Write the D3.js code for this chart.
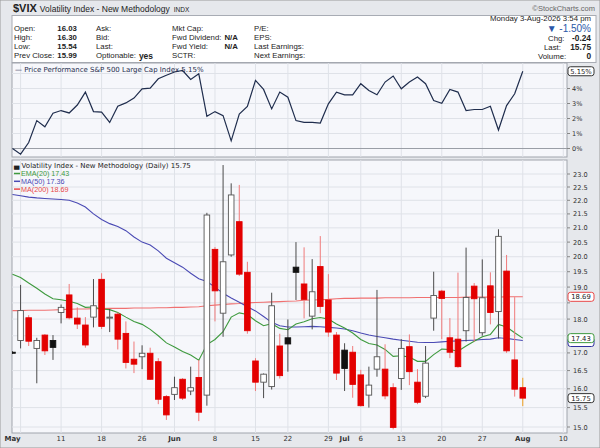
<html>
<head>
<script src="https://d3js.org/d3.v7.min.js"></script>
<style>
  body { margin: 0; background: #ffffff; }
  svg { font-family: "Liberation Sans", Arial, sans-serif; }
  .small { font-family: "DejaVu Sans", Verdana, sans-serif; }
</style>
</head>
<body>
<svg id="chart" width="600" height="448"></svg>
<script>

  // ---- data (trading days, May 1 .. Aug 3 2026) ----
  var openV  = [17.02,17.36,18.04,17.13,17.52,17.36,18.20,18.75,18.03,17.82,18.06,19.25,18.03,18.15,17.57,16.82,
                16.89,16.99,16.75,15.79,15.85,16.26,15.94,16.31,15.83,20.25,18.18,20.06,21.22,19.48,16.77,16.18,
                16.06,17.20,17.44,19.65,19.10,18.09,19.67,18.59,17.52,17.08,17.02,16.38,15.83,16.54,16.54,16.03,
                16.28,17.18,16.18,15.80,18.03,18.87,17.44,17.40,17.65,19.03,17.59,19.04,18.23,19.52,16.80,16.03];
  var highV  = [17.05,19.07,18.12,17.44,17.55,17.52,18.45,19.10,18.36,18.06,19.26,19.45,18.31,18.20,17.93,17.33,
                17.22,17.15,16.85,15.83,16.33,16.29,16.61,16.80,21.54,20.33,23.35,22.64,22.58,19.83,16.85,16.42,
                18.82,17.56,17.99,20.50,20.32,19.92,20.71,19.42,17.61,17.28,17.20,16.52,16.61,18.91,17.25,16.15,
                17.40,17.54,16.54,17.20,19.50,18.91,18.03,19.47,20.31,19.13,19.91,19.48,20.95,20.06,18.68,16.30];
  var lowV   = [16.97,17.13,17.20,16.15,16.94,16.80,17.87,17.99,17.70,17.15,17.75,17.70,17.61,17.10,16.56,16.43,
                16.54,16.24,15.59,15.18,15.70,15.70,15.83,15.15,15.55,17.93,17.47,20.00,19.36,17.56,15.94,15.75,
                15.98,16.28,16.47,18.59,18.02,17.69,18.18,17.47,16.24,15.94,15.76,15.53,15.50,16.33,15.72,14.94,
                15.97,16.10,15.59,15.75,17.65,17.40,16.85,16.58,17.33,17.33,17.50,17.84,17.42,17.00,15.79,15.54];
  var closeV = [16.99,18.26,17.34,17.36,17.06,17.16,18.36,18.04,17.85,17.23,18.41,17.78,18.06,17.40,16.73,16.68,
                16.99,16.26,15.72,15.31,16.03,15.75,16.03,15.38,21.46,18.88,19.83,22.20,19.42,17.65,16.18,16.40,
                18.41,16.36,17.26,19.48,18.61,18.85,18.39,17.61,16.43,16.56,16.12,15.55,16.10,16.89,15.81,14.99,
                17.13,16.47,15.64,16.71,18.73,18.64,17.02,16.61,18.67,18.63,18.66,18.20,20.70,17.06,15.99,15.75];
  var prevCloseStart = 16.90;

  var ema20 = [19.42,19.31,19.13,18.96,18.78,18.63,18.60,18.55,18.48,18.36,18.37,18.31,18.29,18.20,18.06,17.93,
               17.84,17.69,17.50,17.29,17.17,17.04,16.94,16.79,17.24,17.39,17.62,18.06,18.19,18.14,17.95,17.80,
               17.86,17.72,17.68,17.85,17.92,18.01,18.05,18.00,17.85,17.73,17.58,17.39,17.27,17.23,17.10,16.90,
               16.92,16.88,16.76,16.76,16.95,17.11,17.10,17.05,17.20,17.34,17.47,17.54,17.84,17.76,17.59,17.43];
  var ma50  = [22.22,22.17,22.12,22.09,22.07,22.05,22.03,22.00,21.90,21.75,21.50,21.30,21.15,21.05,20.90,20.68,
               20.50,20.40,20.20,19.95,19.80,19.65,19.45,19.27,19.18,19.00,18.80,18.65,18.52,18.38,18.25,18.08,
               17.90,17.80,17.76,17.76,17.77,17.78,17.77,17.75,17.73,17.70,17.65,17.58,17.52,17.48,17.44,17.40,
               17.37,17.34,17.31,17.30,17.30,17.32,17.34,17.35,17.36,17.37,17.39,17.40,17.44,17.42,17.39,17.36];
  var ma200 = [18.26,18.26,18.27,18.27,18.27,18.28,18.29,18.30,18.31,18.31,18.32,18.32,18.33,18.33,18.33,18.34,
               18.34,18.34,18.35,18.35,18.36,18.36,18.37,18.38,18.41,18.43,18.45,18.47,18.48,18.50,18.51,18.52,
               18.53,18.54,18.55,18.56,18.58,18.59,18.60,18.61,18.63,18.64,18.64,18.65,18.65,18.65,18.66,18.66,
               18.66,18.66,18.67,18.67,18.67,18.67,18.67,18.67,18.68,18.68,18.68,18.68,18.68,18.69,18.69,18.69];

  // S&P 500 price performance, percent
  var spxPerf = [0.00,-0.38,0.40,1.86,1.45,2.35,2.53,2.37,2.90,3.76,2.46,2.42,1.74,2.82,3.04,3.36,
                 3.98,4.03,4.65,4.88,5.10,5.20,4.60,4.98,2.15,2.46,2.19,0.51,2.30,2.80,4.54,3.94,
                 2.64,3.76,3.42,1.86,1.74,1.74,1.70,2.98,3.76,3.58,3.58,4.32,3.87,3.58,4.43,4.83,
                 3.98,4.43,4.77,4.32,3.20,3.02,3.94,3.76,2.53,2.60,2.60,2.82,1.23,2.86,3.65,5.15];

  // x axis (trading day index; 64..68 are the days after Aug 3)
  var tickIdx  = [0, 6, 11, 16, 20, 25, 30, 34, 39, 41, 43, 48, 53, 58, 63, 68];
  var tickText = ["May","11","18","26","Jun","8","15","22","29","Jul","6","13","20","27","Aug","10"];
  var tickBold = [1,0,0,0,1,0,0,0,0,1,0,0,0,0,1,0];
  var gridIdx  = [1, 6, 11, 16, 20, 25, 30, 34, 39, 43, 48, 53, 58, 63, 68];

  var priceTicks = [15,15.5,16,16.5,17,17.5,18,18.5,19,19.5,20,20.5,21,21.5,22,22.5,23];
  var pctTicks = [0,1,2,3,4,5];
  var pctLabels = [0,1,2,3,4];

  // last values shown in the tags on the right
  var tagVals = [18.69, 17.43, 15.75];

  // ---- layout ----
  var left = 12, right = 567;
  var top1 = 63, bot1 = 157;
  var top2 = 160, bot2 = 433;

  var x = d3.scaleLinear().domain([-0.06, 68.46]).range([left, right]);
  var y = d3.scaleLog().domain([15, 23]).range([427, 174]);
  var yp = d3.scaleLinear().domain([0, 5]).range([148.5, 73.5]);

  var svg = d3.select("#chart");

  // background and frames
  svg.append("rect").attr("x",0).attr("y",0).attr("width",600).attr("height",448)
     .attr("fill","#e6e8ec").attr("stroke","#9a9a9a");
  svg.append("rect").attr("x",left).attr("y",15.5).attr("width",584).attr("height",47)
     .attr("fill","#ffffff").attr("stroke","#a8acb4");
  svg.append("rect").attr("x",left).attr("y",top1).attr("width",right-left).attr("height",bot1-top1)
     .attr("fill","#f6f7fb").attr("stroke","#a0a4ac");
  svg.append("rect").attr("x",left).attr("y",top2).attr("width",right-left).attr("height",bot2-top2)
     .attr("fill","#f6f7fb").attr("stroke","#a0a4ac");

  // ---- title row ----
  var title = svg.append("text").attr("x",13).attr("y",12).attr("fill","#222");
  title.append("tspan").attr("font-size","11px").attr("font-weight","bold").text("$VIX");
  title.append("tspan").attr("font-size","8.5px").attr("dx",3).text("Volatility Index - New Methodology");
  title.append("tspan").attr("font-size","6.5px").attr("dx",4).text("INDX");
  svg.append("text").attr("x",595).attr("y",11).attr("text-anchor","end")
     .attr("font-size","7.5px").attr("fill","#666").text("\u00a9StockCharts.com");

  // ---- header info ----
  var rowY = [31, 40, 49, 58];
  var col1 = ["Open:","High:","Low:","Prev Close:"];
  var col1v = ["16.03","16.30","15.54","15.99"];
  var col2 = ["Ask:","Bid:","Last:","Optionable:"];
  var col3 = ["Mkt Cap:","Fwd Dividend:","Fwd Yield:","SCTR:"];
  var col3v = ["","N/A","N/A",""];
  var col4 = ["P/E:","EPS:","Last Earnings:","Next Earnings:"];
  var info = svg.append("g").attr("font-size","7.8px").attr("fill","#222");

  function textEnd(sel) { return +sel.attr("x") + sel.node().getComputedTextLength(); }

  var lab1 = [], lab2 = [], lab3 = [];
  rowY.forEach(function(ry, i) {
    lab1.push(info.append("text").attr("x",14).attr("y",ry).text(col1[i]));
    lab2.push(info.append("text").attr("x",96).attr("y",ry).text(col2[i]));
    lab3.push(info.append("text").attr("x",172).attr("y",ry).text(col3[i]));
    info.append("text").attr("x",254).attr("y",ry).text(col4[i]);
  });
  var v1x = Math.max(55, textEnd(lab1[3]) + 3);
  rowY.forEach(function(ry, i) {
    info.append("text").attr("x", i == 3 ? textEnd(lab1[3]) + 3 : v1x).attr("y",ry)
        .attr("font-weight","bold").text(col1v[i]);
  });
  var v3x = Math.max(224, textEnd(lab3[1]) + 3);
  rowY.forEach(function(ry, i) {
    info.append("text").attr("x",v3x).attr("y",ry).attr("font-weight","bold").text(col3v[i]);
  });
  info.append("text").attr("x",textEnd(lab2[3]) + 3).attr("y",rowY[3]+0.5)
      .attr("font-weight","bold").attr("font-size","8.5px").text("yes");

  info.append("text").attr("x",591).attr("y",20.5).attr("text-anchor","end").text("Monday  3-Aug-2026  3:54 pm");
  info.append("text").attr("x",591).attr("y",rowY[0]+0.5).attr("text-anchor","end")
      .attr("font-size","10px").attr("fill","#2a57a8").text("\u25bc -1.50%");
  var rLab = ["Chg:","Last:","Volume:"], rVal = ["-0.24","15.75","0"], rLabX = [548, 544, 538];
  rLab.forEach(function(t, i) {
    info.append("text").attr("x",rLabX[i]).attr("y",rowY[i+1]+0.5).text(t);
    info.append("text").attr("x",591).attr("y",rowY[i+1]+0.5).attr("text-anchor","end")
        .attr("font-weight","bold").attr("font-size","8.3px").text(rVal[i]);
  });

  // ---- clip paths ----
  var defs = svg.append("defs");
  defs.append("clipPath").attr("id","clip1").append("rect")
      .attr("x",left).attr("y",top1).attr("width",right-left).attr("height",bot1-top1);
  defs.append("clipPath").attr("id","clip2").append("rect")
      .attr("x",left).attr("y",top2).attr("width",right-left).attr("height",bot2-top2);

  // ---- grid lines ----
  var grid = svg.append("g").attr("stroke","#dfe2e8").attr("stroke-width",1);
  gridIdx.forEach(function(g) {
    grid.append("line").attr("x1",x(g)).attr("x2",x(g)).attr("y1",top1).attr("y2",bot1);
    grid.append("line").attr("x1",x(g)).attr("x2",x(g)).attr("y1",top2).attr("y2",bot2);
  });
  pctTicks.forEach(function(p) {
    grid.append("line").attr("x1",left).attr("x2",right).attr("y1",yp(p)).attr("y2",yp(p))
        .attr("stroke", p == 0 ? "#9a9ea6" : "#dfe2e8");
  });
  priceTicks.forEach(function(p) {
    grid.append("line").attr("x1",left).attr("x2",right).attr("y1",y(p)).attr("y2",y(p));
  });

  // ---- top panel: S&P performance line ----
  svg.append("g").attr("clip-path","url(#clip1)")
    .append("path")
      .datum(spxPerf)
      .attr("fill","none")
      .attr("stroke","#1f2d4d")
      .attr("stroke-width",1.2)
      .attr("d", d3.line()
        .x(function(d, i) { return x(i); })
        .y(function(d) { return yp(d); }));

  svg.append("text").attr("class","small").attr("x",15).attr("y",72).attr("font-size","7px")
     .attr("fill","#1f2d4d").text("\u2014 Price Performance S&P 500 Large Cap Index 5.15%");

  // top panel axis labels
  pctTicks.forEach(function(p) {
    svg.append("line").attr("x1",right).attr("x2",right+3).attr("y1",yp(p)).attr("y2",yp(p)).attr("stroke","#888");
  });
  pctLabels.forEach(function(p) {
    svg.append("text").attr("class","small").attr("x",572).attr("y",yp(p)+2.5)
       .attr("font-size","6.5px").attr("fill","#333").text(p + "%");
  });

  // ---- main panel: moving averages ----
  var main = svg.append("g").attr("clip-path","url(#clip2)");
  var maLine = d3.line().x(function(d, i) { return x(i); }).y(function(d) { return y(d); });
  main.append("path").datum(ma200).attr("fill","none").attr("stroke","#f07070").attr("stroke-width",1.1).attr("d",maLine);
  main.append("path").datum(ma50).attr("fill","none").attr("stroke","#4a4ab4").attr("stroke-width",1.1).attr("d",maLine);
  main.append("path").datum(ema20).attr("fill","none").attr("stroke","#3e9a3e").attr("stroke-width",1.1).attr("d",maLine);

  // ---- candles ----
  var bw = 5.6;
  closeV.forEach(function(c, i) {
    var o = openV[i], pc = i == 0 ? prevCloseStart : closeV[i-1];
    var up = c >= pc, filled = c < o;
    var wick = up ? "#4a4a4a" : "#f07a7a";
    if (i == closeV.length - 1) wick = "#f0a020";
    var cx = x(i);
    main.append("line").attr("x1",cx).attr("x2",cx)
        .attr("y1",y(highV[i])).attr("y2",y(lowV[i]))
        .attr("stroke",wick).attr("stroke-width",1);
    var yt = y(Math.max(o, c)), yb = y(Math.min(o, c));
    var fill, stroke;
    if (up && filled) { fill = "#111"; stroke = "#111"; }
    else if (up) { fill = "#ffffff"; stroke = "#555"; }
    else if (filled) { fill = "#e30000"; stroke = "#e30000"; }
    else { fill = "#ffffff"; stroke = "#e30000"; }
    main.append("rect").attr("x",cx - bw/2).attr("y",yt)
        .attr("width",bw).attr("height",Math.max(1, yb - yt))
        .attr("fill",fill).attr("stroke",stroke).attr("stroke-width",0.9);
  });

  // ---- main panel legend ----
  var lg = svg.append("g");
  lg.append("text").attr("class","small").attr("x",14).attr("y",168).attr("font-size","7px")
    .attr("fill","#222").text("\u2584 Volatility Index - New Methodology (Daily) 15.75");
  var maName = ["EMA(20) 17.43","MA(50) 17.36","MA(200) 18.69"];
  var maCol = ["#3e9a3e","#4a4ab4","#e84848"];
  maName.forEach(function(t, i) {
    var ly = 173.5 + i * 7.8;
    lg.append("line").attr("x1",14).attr("x2",20).attr("y1",ly).attr("y2",ly).attr("stroke",maCol[i]).attr("stroke-width",1.5);
    lg.append("text").attr("x",21).attr("y",ly+2.4).attr("font-size","7.2px").attr("fill",maCol[i]).text(t);
  });

  // ---- price axis (labels hidden where a value tag sits on top) ----
  priceTicks.forEach(function(p) {
    svg.append("line").attr("x1",right).attr("x2",right+3).attr("y1",y(p)).attr("y2",y(p)).attr("stroke","#888");
    var covered = tagVals.some(function(v) { return Math.abs(y(v) - y(p)) < 7; });
    if (covered) return;
    svg.append("text").attr("class","small").attr("x",573).attr("y",y(p)+2.5)
       .attr("font-size","6.6px").attr("fill","#333").text(d3.format(".1f")(p));
  });

  // ---- x axis labels ----
  tickIdx.forEach(function(t, i) {
    svg.append("text").attr("class","small").attr("x",x(t)).attr("y",441)
       .attr("text-anchor","middle").attr("font-size","7px")
       .attr("font-weight", tickBold[i] ? "bold" : "normal")
       .attr("fill","#333").text(tickText[i]);
  });

  // ---- value tags on the right ----
  function tagBox(col, yy) {
    return svg.append("rect").attr("x",568).attr("y",yy-4.5).attr("width",26).attr("height",9).attr("rx",2.5)
     .attr("fill","#ffffff").attr("stroke",col).attr("stroke-width",1);
  }
  function tag(label, col, yy) {
    tagBox(col, yy);
    svg.append("text").attr("class","small").attr("x",581).attr("y",yy+2.4).attr("text-anchor","middle")
     .attr("font-size","6.8px").attr("fill","#222").text(label);
  }
  // MA(50) tag sits almost fully under the EMA(20) tag, only its edge shows
  tagBox("#3030a0", y(17.36) + 1.5);
  tag("18.69", "#e84848", y(tagVals[0]));
  tag("17.43", "#3e9a3e", y(tagVals[1]));
  tag("15.75", "#333333", y(tagVals[2]));
  tag("5.15%", "#333333", yp(5.15));

</script>
</body>
</html>
